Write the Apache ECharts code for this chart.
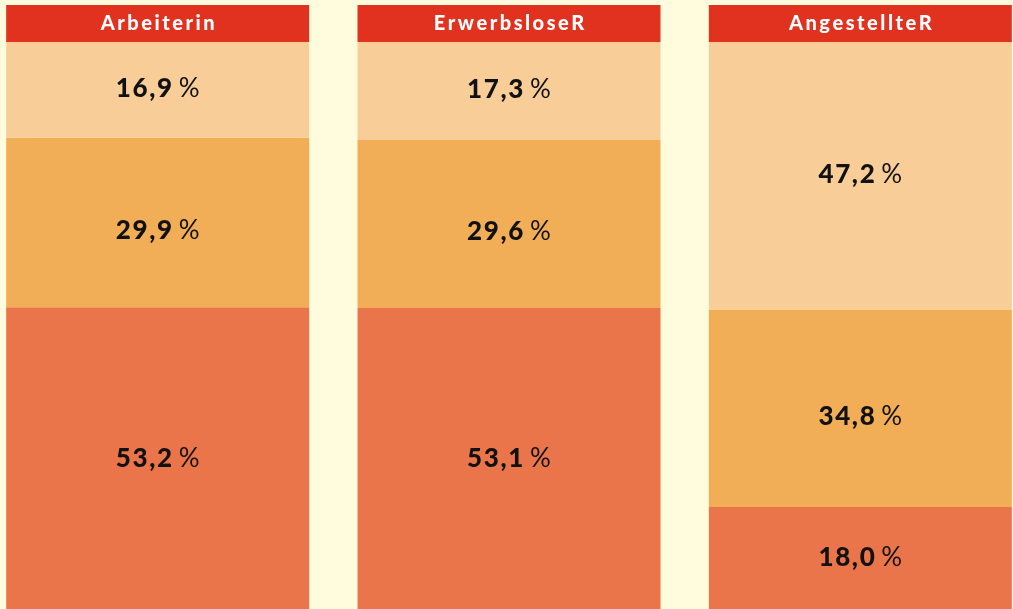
<!DOCTYPE html>
<html>
<head>
<meta charset="utf-8">
<script src="https://cdn.jsdelivr.net/npm/echarts@6/dist/echarts.min.js"></script>
<style>
  html, body { margin: 0; padding: 0; background: #fefcdd; }
  #chart { width: 1013px; height: 609px; }
</style>
</head>
<body>
<div id="chart"></div>
<script>
// Gruppen (Spalten) und Anteile in %, von unten nach oben gestapelt
const categories = ['Arbeiterin', 'ErwerbsloseR', 'AngestellteR']
const bottomValues = [53.2, 53.1, 18.0]
const middleValues = [29.9, 29.6, 34.8]
const topValues = [16.9, 17.3, 47.2]
const headerValues = [1, 1, 1]

const colors = {
  header: '#e0321f',
  top: '#f8cd97',
  middle: '#f2ae56',
  bottom: '#eb754a'
}

// Zahl mit Komma und etwas Sperrung, wie im Original
function fmt(v) {
  let s = v.toFixed(1).replace('.', ',')
  return s.split('').join('\u200a')
}

function spaced(s) {
  return s.split('').join('\u2009')
}

function valueLabel(offsetY) {
  return {
    show: true,
    position: 'inside',
    offset: [0, offsetY],
    formatter: p => '{b|' + fmt(p.value) + '}{p| %}',
    rich: {
      b: { fontFamily: 'Lato', fontWeight: 900, fontSize: 26, color: '#111' },
      p: { fontFamily: 'Lato', fontWeight: 400, fontSize: 26, color: '#111' }
    }
  }
}

function stackSeries(name, data, color, offsetY) {
  return {
    name: name,
    type: 'bar',
    stack: 'total',
    xAxisIndex: 1,
    yAxisIndex: 1,
    barWidth: 303,
    data: data,
    itemStyle: { color: color },
    label: valueLabel(offsetY),
    silent: true
  }
}

const option = {
  backgroundColor: '#fefcdd',
  animation: false,
  grid: [
    { left: -18, right: -23, top: 5, height: 37, outerBoundsMode: 'none' },
    { left: -18, right: -23, top: 42, bottom: 0, outerBoundsMode: 'none' }
  ],
  xAxis: [
    { type: 'category', gridIndex: 0, data: categories, show: false },
    { type: 'category', gridIndex: 1, data: categories, show: false }
  ],
  yAxis: [
    { type: 'value', gridIndex: 0, min: 0, max: 1, show: false },
    { type: 'value', gridIndex: 1, min: 0, max: 100, show: false }
  ],
  series: [
    {
      type: 'bar',
      xAxisIndex: 0,
      yAxisIndex: 0,
      barWidth: 303,
      data: headerValues,
      itemStyle: { color: colors.header },
      silent: true,
      label: {
        show: true,
        position: 'inside',
        formatter: p => spaced(p.name),
        fontFamily: 'Lato',
        fontWeight: 900,
        fontSize: 20,
        color: '#fff'
      }
    },
    stackSeries('unten', bottomValues, colors.bottom, 0),
    stackSeries('mitte', middleValues, colors.middle, 8),
    stackSeries('oben', topValues, colors.top, -1)
  ]
}

const myChart = echarts.init(document.getElementById('chart'))
myChart.setOption(option)
</script>
</body>
</html>
